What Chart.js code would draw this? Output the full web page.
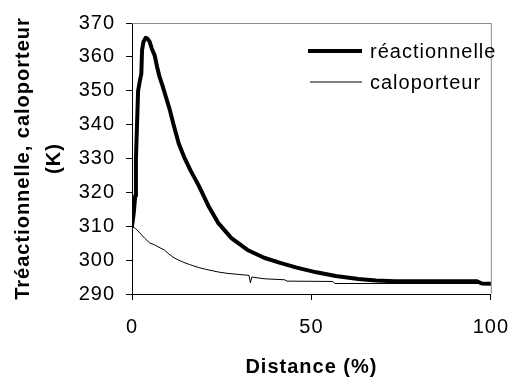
<!DOCTYPE html>
<html>
<head>
<meta charset="utf-8">
<script src="https://cdn.jsdelivr.net/npm/chart.js@4/dist/chart.umd.min.js"></script>
<style>
html,body{margin:0;padding:0;background:#fff;}
canvas{display:block;}
</style>
</head>
<body>
<canvas id="c" width="524" height="383"></canvas>
<script>
// ---- data ----
const seriesNames = ['réactionnelle', 'caloporteur'];
const xTitle = 'Distance (%)';
const yTitle = ['Tréactionnelle, caloporteur', '(K)'];
const yTicks = [290, 300, 310, 320, 330, 340, 350, 360, 370];
const xTicks = [0, 50, 100];

const distReact = [0, 0.5, 0.9, 1.1, 1.4, 1.7, 2.2, 2.6, 2.8, 3.2, 3.8, 4.3, 4.9, 5.5, 6.3, 7.0, 7.7,
  8.5, 9.5, 10.5, 11.7, 13.0, 14.5, 16.3, 18.6, 21.3, 24.0, 27.7, 32.2, 36.8, 41.3, 45.9,
  51.4, 56.8, 63.1, 68, 73.2, 80, 90, 96, 97.5, 100];
const tempReact = [310, 314, 319, 330, 340, 350, 353, 355, 362, 364.5, 365.6, 365.4, 364.5, 362.5, 360.5, 357, 354,
  351.5, 348, 344.5, 339.5, 334.5, 330.5, 326.5, 322.0, 316, 311, 306.5, 303, 300.7, 299.2, 297.8,
  296.4, 295.3, 294.4, 294.0, 293.8, 293.8, 293.8, 293.8, 293.1, 293.0];

const distCalo = [0, 1, 2.2, 3.5, 4.9, 6.3, 7.5, 9.0, 10.3, 11.7, 13, 14.5, 16, 17.2, 18.6, 20.5, 22.7, 24,
  26.5, 29.5, 32.6, 33.0, 33.4, 36.8, 42.5, 43.2, 56, 56.5, 100];
const tempCalo = [310, 309.3, 308, 306.5, 305.1, 304.5, 303.8, 303.0, 301.8, 300.7, 300, 299.3, 298.7, 298.3, 297.8, 297.3, 296.8, 296.5,
  296.1, 295.8, 295.5, 293.3, 295.0, 294.5, 294.2, 293.8, 293.7, 293.1, 293.1];

const toPts = (xs, ys) => xs.map((x, i) => ({x: x, y: ys[i]}));

const FONT = '"Liberation Sans", Arial, sans-serif';
const FS = 20;

const spacing = {
  id: 'spacing',
  beforeUpdate(chart) { chart.ctx.letterSpacing = '1px'; },
  beforeLayout(chart) { chart.ctx.letterSpacing = '1px'; },
  beforeDraw(chart) { chart.ctx.letterSpacing = '1px'; }
};

const frame = {
  id: 'frame',
  beforeDatasetsDraw(chart) {
    const {ctx, chartArea: a} = chart;
    ctx.save();
    ctx.strokeStyle = '#8c8c8c';
    ctx.lineWidth = 1;
    ctx.beginPath();
    ctx.moveTo(a.left, a.top + 0.5);
    ctx.lineTo(a.right + 0.5, a.top + 0.5);
    ctx.lineTo(a.right + 0.5, a.bottom);
    ctx.stroke();
    ctx.restore();
  }
};

const legendIn = {
  id: 'legendIn',
  afterDraw(chart) {
    const {ctx} = chart;
    const items = chart.data.datasets;
    ctx.save();
    ctx.font = FS + 'px ' + FONT;
    ctx.textBaseline = 'middle';
    ctx.textAlign = 'left';
    ctx.fillStyle = '#000';
    items.forEach((ds, i) => {
      const y = 51 + i * 31;
      ctx.strokeStyle = ds.borderColor;
      ctx.lineWidth = ds.borderWidth;
      ctx.beginPath();
      ctx.moveTo(i === 0 ? 308 : 310, y);
      ctx.lineTo(362, y);
      ctx.stroke();
      ctx.fillText(ds.label, 370, y + 1);
    });
    ctx.restore();
  }
};

new Chart(document.getElementById('c'), {
  type: 'line',
  data: {
    datasets: [
      {label: seriesNames[0], data: toPts(distReact, tempReact), borderColor: '#000', borderWidth: 4,
       pointRadius: 0, tension: 0, fill: false, borderJoinStyle: 'round', borderCapStyle: 'round'},
      {label: seriesNames[1], data: toPts(distCalo, tempCalo), borderColor: '#000', borderWidth: 1,
       pointRadius: 0, tension: 0, fill: false}
    ]
  },
  options: {
    responsive: false,
    animation: false,
    devicePixelRatio: 1,
    layout: {padding: {left: 0, right: 26, top: 20, bottom: 0}},
    plugins: {legend: {display: false}, tooltip: {enabled: false}},
    scales: {
      x: {
        type: 'linear', min: 0, max: 100,
        afterBuildTicks: s => { s.ticks = xTicks.map(v => ({value: v})); },
        afterFit: s => { s.height = 89; },
        grid: {drawOnChartArea: false, drawTicks: true, tickLength: 6, color: '#000'},
        border: {display: true, color: '#000', width: 1},
        ticks: {color: '#000', padding: 15, maxRotation: 0, font: {family: FONT, size: FS}},
        title: {display: true, text: xTitle, color: '#000', padding: {top: 0, bottom: 4},
                font: {family: FONT, size: FS, weight: 'bold'}}
      },
      y: {
        type: 'linear', min: 290, max: 370,
        afterBuildTicks: s => { s.ticks = yTicks.map(v => ({value: v})); },
        afterFit: s => { s.width = 132; },
        grid: {drawOnChartArea: false, drawTicks: true, tickLength: 6, color: '#000'},
        border: {display: true, color: '#000', width: 1},
        ticks: {color: '#000', padding: 11, font: {family: FONT, size: FS}},
        title: {display: true, text: yTitle, color: '#000', padding: {top: 8, bottom: 0},
                font: {family: FONT, size: FS, weight: 'bold', lineHeight: 1.55}}
      }
    }
  },
  plugins: [spacing, frame, legendIn]
});
</script>
</body>
</html>
